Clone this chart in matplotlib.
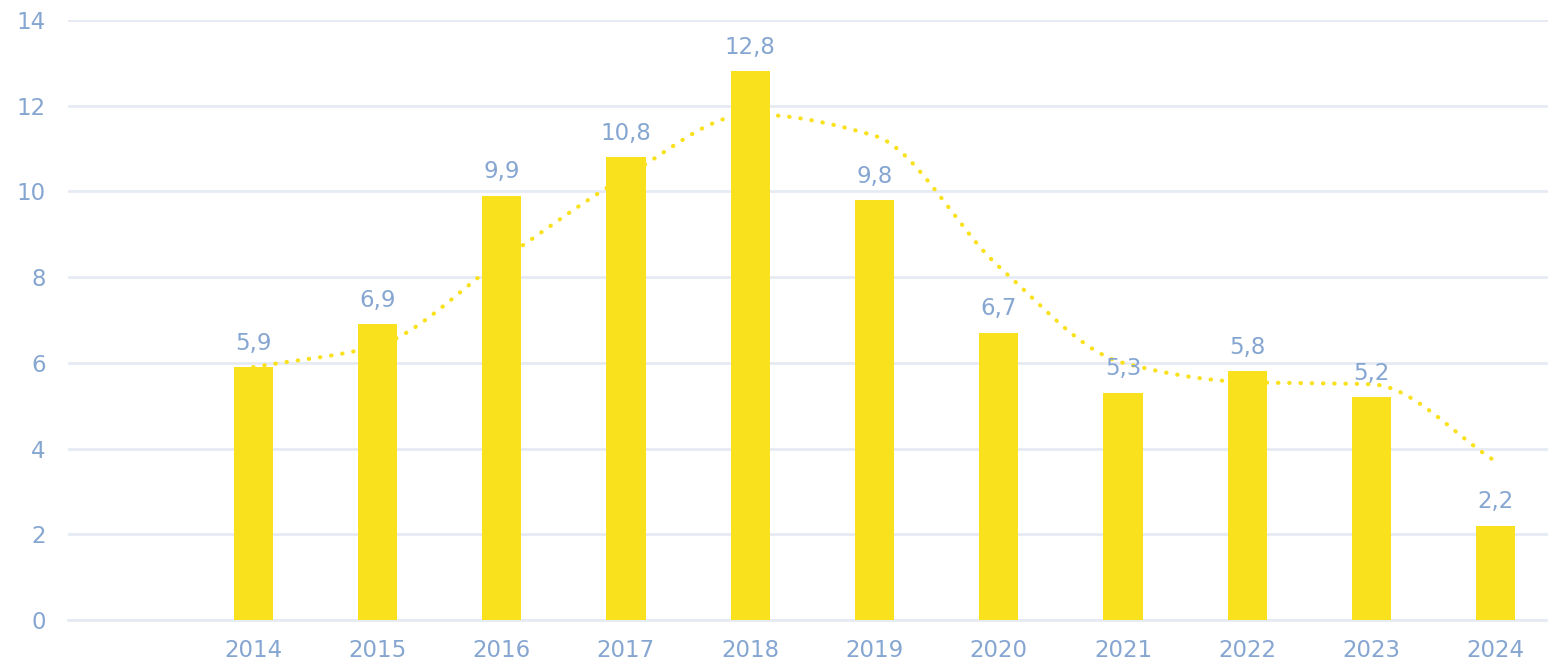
import numpy as np
import matplotlib
matplotlib.use("Agg")
import matplotlib.pyplot as plt

years = ["2014", "2015", "2016", "2017", "2018", "2019", "2020", "2021", "2022", "2023", "2024"]
values = [5.9, 6.9, 9.9, 10.8, 12.8, 9.8, 6.7, 5.3, 5.8, 5.2, 2.2]
trend = [5.9, 6.4, 8.4, 10.35, 11.8, 11.3, 8.25, 6.0, 5.55, 5.5, 3.7]
labels = ["5,9", "6,9", "9,9", "10,8", "12,8", "9,8", "6,7", "5,3", "5,8", "5,2", "2,2"]

BAR = "#f9e11e"
TXT = "#86a6d2"
GRID = "#e6eaf3"

def pchip_curve(x, y, n=40):
    x = np.asarray(x, float); y = np.asarray(y, float)
    h = np.diff(x); d = np.diff(y) / h
    m = np.zeros_like(y)
    m[0] = d[0]; m[-1] = d[-1]
    for k in range(1, len(y) - 1):
        if d[k-1] * d[k] <= 0:
            m[k] = 0.0
        else:
            w1 = 2*h[k] + h[k-1]; w2 = h[k] + 2*h[k-1]
            m[k] = (w1 + w2) / (w1 / d[k-1] + w2 / d[k])
    xs, ys = [], []
    for k in range(len(y) - 1):
        t = np.linspace(0, 1, n, endpoint=False)
        h00 = 2*t**3 - 3*t**2 + 1; h10 = t**3 - 2*t**2 + t
        h01 = -2*t**3 + 3*t**2; h11 = t**3 - t**2
        xs.extend(x[k] + t*h[k])
        ys.extend(h00*y[k] + h10*h[k]*m[k] + h01*y[k+1] + h11*h[k]*m[k+1])
    xs.append(x[-1]); ys.append(y[-1])
    return np.array(xs), np.array(ys)

fig = plt.figure(figsize=(15.48, 6.66), dpi=100)
ax = fig.add_axes([68/1548, 46/666, 1 - 68/1548, 600/666])

x = np.arange(len(years))
sx, sy = pchip_curve(x, trend)
ax.plot(sx, sy, color=BAR, lw=3, linestyle=(0, (0.1, 2.6)), dash_capstyle="round", zorder=2)
ax.bar(x, values, width=0.315, color=BAR, zorder=3)

for xi, v, lab in zip(x, values, labels):
    ax.annotate(lab, (xi, v), xytext=(0, 9), textcoords="offset points",
                ha="center", va="bottom", color=TXT, fontsize=16.5)

ax.set_xlim(-1.49, 10.42)
ax.set_ylim(0, 14)
ax.set_yticks(range(0, 15, 2))
ax.set_xticks(x)
ax.set_xticklabels(years)
ax.tick_params(axis="both", length=0, labelsize=16.5, labelcolor=TXT)
ax.tick_params(axis="x", pad=14)
ax.tick_params(axis="y", pad=16)
ax.grid(axis="y", color=GRID, lw=2)
ax.axhline(0, color=GRID, lw=2, clip_on=False, zorder=1)
ax.set_axisbelow(True)
for s in ax.spines.values():
    s.set_visible(False)

fig.savefig("out.png", dpi=100)
